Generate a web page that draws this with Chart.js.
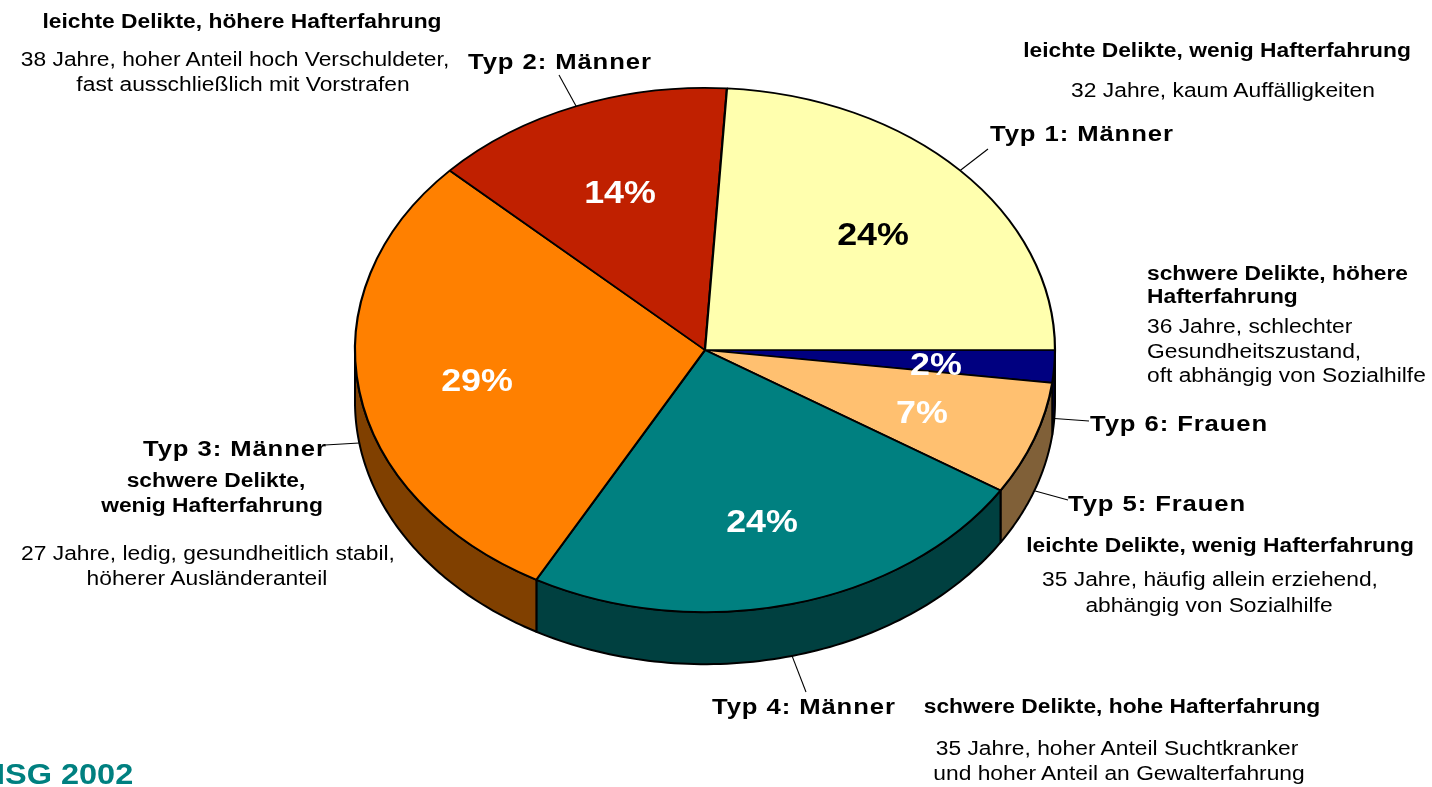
<!DOCTYPE html>
<html><head><meta charset="utf-8">
<script src="https://cdn.jsdelivr.net/npm/chart.js@4.4.0/dist/chart.umd.min.js"></script>
<style>
html,body{margin:0;padding:0;background:#fff;overflow:hidden}
#wrap{position:relative;width:1432px;height:787px;font-family:"Liberation Sans",Arial,sans-serif;color:#000;overflow:hidden}
#c{position:absolute;left:0;top:0}
.t{position:absolute;white-space:nowrap;line-height:1}
</style></head><body>
<div id="wrap"><canvas id="c" width="1432" height="787"></canvas></div>
<script>
// ---- data (clockwise from 3 o'clock) ----
const categories = ['Typ 6: Frauen','Typ 5: Frauen','Typ 4: Männer','Typ 3: Männer','Typ 2: Männer','Typ 1: Männer'];
const shares = [2, 7, 24, 29, 14, 24];
const pctLabels = ['2%','7%','24%','29%','14%','24%'];
const topColors = ['#000080','#FFC070','#008080','#FF8000','#C02000','#FFFFAE'];
const sideColors = ['#000040','#806038','#004040','#804000','#601000','#808058'];
const pctColors = ['#fff','#fff','#fff','#fff','#fff','#000'];

const K = 0.749, DEPTH = 52, SX = 1.14;
const wrap = document.getElementById('wrap');

function addText(txt, x, base, o) {
  const d = document.createElement('div');
  d.className = 't';
  d.textContent = txt;
  const size = o.size || 20;
  const sx = o.sx || SX;
  d.style.fontSize = size + 'px';
  d.style.fontWeight = o.bold ? 'bold' : 'normal';
  if (o.color) d.style.color = o.color;
  if (o.ls) d.style.letterSpacing = o.ls + 'px';
  d.style.left = x + 'px';
  d.style.top = (base - 0.8465 * size) + 'px';
  if (o.align === 'center') {
    d.style.transform = 'translateX(-50%) scaleX(' + sx + ')';
  } else {
    d.style.transformOrigin = 'left center';
    d.style.transform = 'scaleX(' + sx + ')';
  }
  wrap.appendChild(d);
  return d;
}

// annotations
const B = {bold:true}, N = {}, C = 'center';
const TYP = {bold:true, size:22.5, ls:0.8};
addText('leichte Delikte, höhere Hafterfahrung', 242, 28, {bold:true, align:C});
addText('38 Jahre, hoher Anteil hoch Verschuldeter,', 235, 66, {align:C});
addText('fast ausschließlich mit Vorstrafen', 243, 91, {align:C});
addText('Typ 2: Männer', 468, 70, TYP);

addText('leichte Delikte, wenig Hafterfahrung', 1217, 57, {bold:true, align:C});
addText('32 Jahre, kaum Auffälligkeiten', 1223, 97, {align:C});
addText('Typ 1: Männer', 990, 142, TYP);

addText('schwere Delikte, höhere', 1147, 280, B);
addText('Hafterfahrung', 1147, 303, B);
addText('36 Jahre, schlechter', 1147, 333, N);
addText('Gesundheitszustand,', 1147, 358, N);
addText('oft abhängig von Sozialhilfe', 1147, 382, N);
addText('Typ 6: Frauen', 1090, 432, TYP);

addText('Typ 5: Frauen', 1068, 512, TYP);
addText('leichte Delikte, wenig Hafterfahrung', 1220, 552, {bold:true, align:C});
addText('35 Jahre, häufig allein erziehend,', 1210, 586, {align:C});
addText('abhängig von Sozialhilfe', 1209, 612, {align:C});

addText('Typ 4: Männer', 712, 715, TYP);
addText('schwere Delikte, hohe Hafterfahrung', 1122, 713, {bold:true, align:C});
addText('35 Jahre, hoher Anteil Suchtkranker', 1117, 755, {align:C});
addText('und hoher Anteil an Gewalterfahrung', 1119, 780, {align:C});

addText('Typ 3: Männer', 143, 457, TYP);
addText('schwere Delikte,', 216, 487, {bold:true, align:C});
addText('wenig Hafterfahrung', 212, 512, {bold:true, align:C});
addText('27 Jahre, ledig, gesundheitlich stabil,', 208, 560, {align:C});
addText('höherer Ausländeranteil', 207, 585, {align:C});

addText('ISG 2002', -4, 785, {bold:true, size:29, sx:1.12, color:'#008080'});

// label-side ends of leader lines (same order as categories)
const leaderEnds = [[1089,421],[1068,500],[806,692],[325,445],[559,75],[988,149]];

const pctDivs = pctLabels.map((p,i) => {
  const d = document.createElement('div');
  d.className = 't';
  d.textContent = p;
  d.style.fontSize = '32px';
  d.style.fontWeight = 'bold';
  d.style.color = pctColors[i];
  d.style.transform = 'translate(-50%,-50%) scaleX(1.12)';
  wrap.appendChild(d);
  return d;
});

const pie3d = {
  id: 'pie3d',
  beforeDatasetsDraw(chart) {
    const ctx = chart.ctx;
    const arcs = chart.getDatasetMeta(0).data;
    const cx = arcs[0].x, cy = arcs[0].y, R = arcs[0].outerRadius;
    ctx.save();
    arcs.forEach((a, i) => {
      const s = Math.max(a.startAngle, 0), e = Math.min(a.endAngle, Math.PI);
      if (e <= s) return;
      const n = 80;
      ctx.beginPath();
      for (let j = 0; j <= n; j++) {
        const t = s + (e - s) * j / n;
        const x = cx + R * Math.cos(t), y = cy + R * K * Math.sin(t);
        if (j) ctx.lineTo(x, y); else ctx.moveTo(x, y);
      }
      for (let j = n; j >= 0; j--) {
        const t = s + (e - s) * j / n;
        ctx.lineTo(cx + R * Math.cos(t), cy + R * K * Math.sin(t) + DEPTH);
      }
      ctx.closePath();
      ctx.fillStyle = sideColors[i];
      ctx.fill();
      ctx.lineWidth = 2;
      ctx.lineJoin = 'round';
      ctx.strokeStyle = '#000';
      ctx.stroke();
    });
    ctx.restore();
    ctx.save();
    ctx.translate(cx, cy);
    ctx.scale(1, K);
    ctx.translate(-cx, -cy);
  },
  afterDatasetsDraw(chart) {
    const ctx = chart.ctx;
    ctx.restore();
    const arcs = chart.getDatasetMeta(0).data;
    ctx.save();
    ctx.strokeStyle = '#000';
    ctx.lineWidth = 1.1;
    arcs.forEach((a, i) => {
      const mid = (a.startAngle + a.endAngle) / 2;
      const R = a.outerRadius;
      const sn = Math.sin(mid);
      const px = a.x + R * Math.cos(mid);
      const py = a.y + R * K * sn + (sn > 0 ? DEPTH : 0);
      ctx.beginPath();
      ctx.moveTo(px, py);
      ctx.lineTo(leaderEnds[i][0], leaderEnds[i][1]);
      ctx.stroke();
      const lx = a.x + 0.66 * R * Math.cos(mid);
      const ly = a.y + 0.65 * R * K * sn + 3 + 3 * sn;
      pctDivs[i].style.left = lx + 'px';
      pctDivs[i].style.top = ly + 'px';
    });
    ctx.restore();
  }
};

new Chart(document.getElementById('c'), {
  type: 'pie',
  data: {
    labels: categories,
    datasets: [{
      data: shares,
      backgroundColor: topColors,
      borderColor: '#000',
      borderWidth: 2.2,
      hoverOffset: 0,
      radius: 350
    }]
  },
  options: {
    responsive: false,
    animation: false,
    events: [],
    rotation: 90,
    radius: 350,
    layout: {padding: {left: 0, right: 22, top: 0, bottom: 87}},
    plugins: {legend: {display: false}, tooltip: {enabled: false}}
  },
  plugins: [pie3d]
});
</script>
</body></html>
